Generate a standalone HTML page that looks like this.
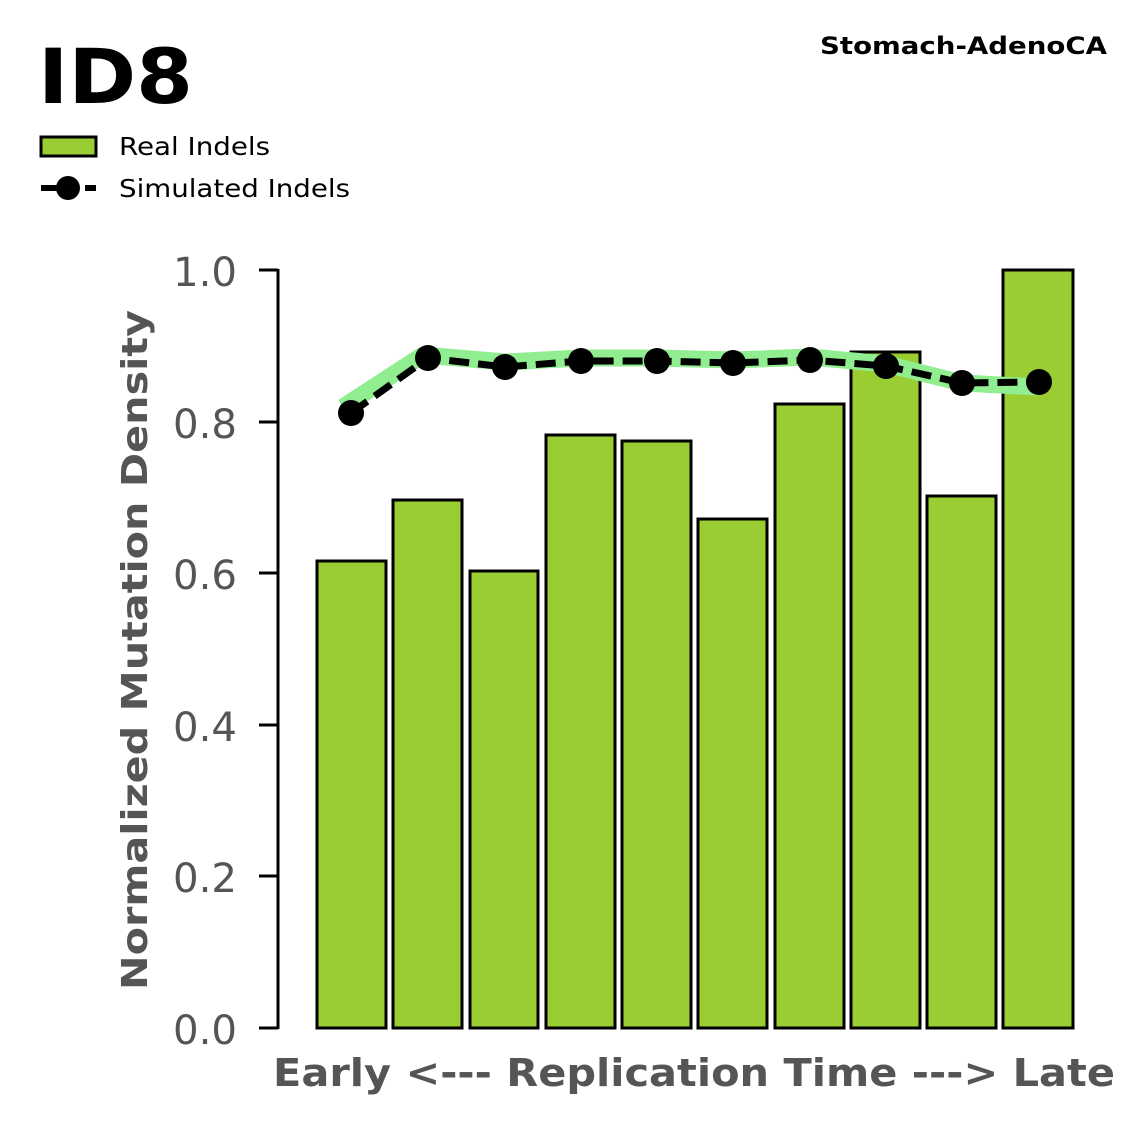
<!DOCTYPE html>
<html><head><meta charset="utf-8"><style>
html,body{margin:0;padding:0;background:#fff;}
svg{display:block;font-family:"DejaVu Sans","Liberation Sans",sans-serif;}
</style></head><body>
<svg width="1147" height="1125" viewBox="0 0 1147 1125" xmlns="http://www.w3.org/2000/svg">
<text x="38" y="103" font-size="76" font-weight="bold" fill="#000" textLength="155" lengthAdjust="spacingAndGlyphs">ID8</text>
<text x="820" y="54" font-size="24" font-weight="bold" fill="#000" textLength="287" lengthAdjust="spacingAndGlyphs">Stomach-AdenoCA</text>
<rect x="41" y="137" width="55" height="19" fill="#9acd32" stroke="#000" stroke-width="3"/>
<text x="119" y="155" font-size="25" fill="#000" textLength="151" lengthAdjust="spacingAndGlyphs">Real Indels</text>
<line x1="41" y1="188" x2="96" y2="188" stroke="#000" stroke-width="6" stroke-dasharray="16,6"/>
<circle cx="68" cy="188" r="12" fill="#000"/>
<text x="119" y="197" font-size="25" fill="#000" textLength="231" lengthAdjust="spacingAndGlyphs">Simulated Indels</text>
<g stroke="#000" stroke-width="3" fill="#9acd32">
<rect x="317" y="561" width="69" height="467"/>
<rect x="393" y="500" width="69" height="528"/>
<rect x="470" y="571" width="68" height="457"/>
<rect x="546" y="435" width="69" height="593"/>
<rect x="622" y="441" width="69" height="587"/>
<rect x="698" y="519" width="69" height="509"/>
<rect x="775" y="404" width="69" height="624"/>
<rect x="851" y="352" width="69" height="676"/>
<rect x="927" y="496" width="69" height="532"/>
<rect x="1003" y="270" width="70" height="758"/>
</g>
<polyline points="343,407 423,355 505,362 581,358 657,358 733,360 810,357 886,364 962,383 1039,387" fill="none" stroke="#90ee90" stroke-width="17" stroke-linejoin="round"/>
<polyline points="351,413 428,358 505,367 581,361 657,361 733,363 810,360 886,366 962,383 1039,382" fill="none" stroke="#000" stroke-width="7" stroke-dasharray="20,9"/>
<g fill="#000">
<circle cx="351" cy="413" r="13"/><circle cx="428" cy="358" r="13"/><circle cx="505" cy="367" r="13"/><circle cx="581" cy="361" r="13"/><circle cx="657" cy="361" r="13"/><circle cx="733" cy="363" r="13"/><circle cx="810" cy="360" r="13"/><circle cx="886" cy="366" r="13"/><circle cx="962" cy="383" r="13"/><circle cx="1039" cy="382" r="13"/>
</g>
<line x1="278" y1="269" x2="278" y2="1029" stroke="#000" stroke-width="3"/>
<g stroke="#000" stroke-width="3">
<line x1="259" y1="270" x2="278" y2="270"/><line x1="259" y1="422" x2="278" y2="422"/><line x1="259" y1="573" x2="278" y2="573"/><line x1="259" y1="725" x2="278" y2="725"/><line x1="259" y1="876" x2="278" y2="876"/><line x1="259" y1="1028" x2="278" y2="1028"/>
</g>
<g font-size="40" fill="#555">
<text x="173" y="286" textLength="64" lengthAdjust="spacingAndGlyphs">1.0</text>
<text x="173" y="438" textLength="64" lengthAdjust="spacingAndGlyphs">0.8</text>
<text x="173" y="589" textLength="64" lengthAdjust="spacingAndGlyphs">0.6</text>
<text x="173" y="741" textLength="64" lengthAdjust="spacingAndGlyphs">0.4</text>
<text x="173" y="892" textLength="64" lengthAdjust="spacingAndGlyphs">0.2</text>
<text x="173" y="1044" textLength="64" lengthAdjust="spacingAndGlyphs">0.0</text>
</g>
<text transform="translate(147,990) rotate(-90)" font-size="36" font-weight="bold" fill="#555" textLength="680" lengthAdjust="spacingAndGlyphs">Normalized Mutation Density</text>
<text x="273" y="1086" font-size="38" font-weight="bold" fill="#555" textLength="842" lengthAdjust="spacingAndGlyphs">Early &lt;--- Replication Time ---&gt; Late</text>
</svg>
</body></html>
